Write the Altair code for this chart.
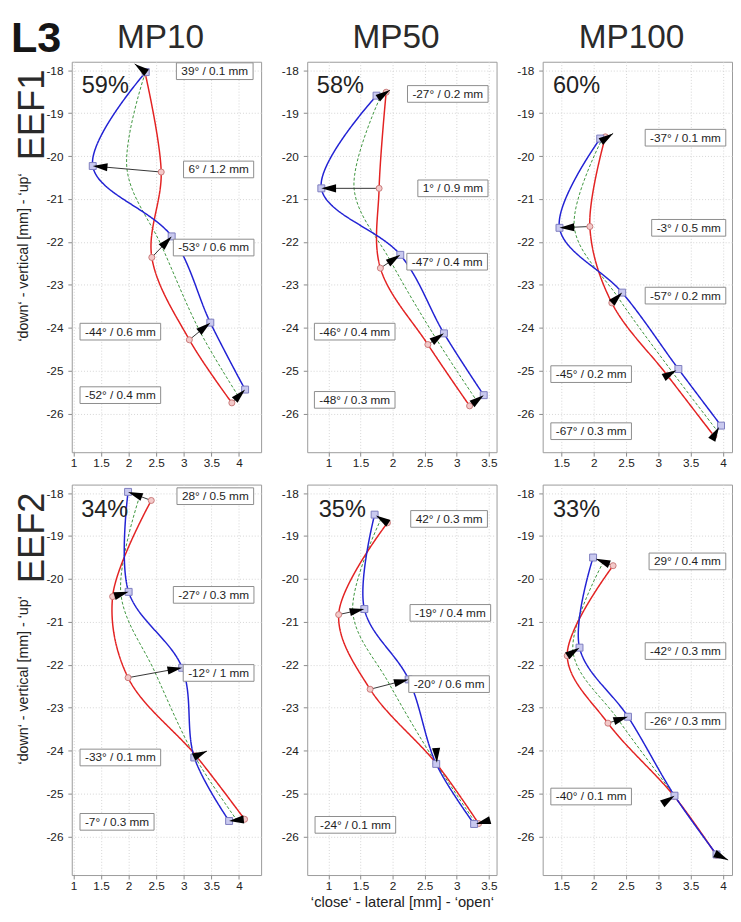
import math
import altair as alt
import pandas as pd

FONT = "Liberation Sans"
W, H = 193, 398
Y_DOMAIN = [-26.9, -17.8]
Y_TICKS = [-18, -19, -20, -21, -22, -23, -24, -25, -26]

row_names = ["EEF1", "EEF2"]
col_names = ["MP10", "MP50", "MP100"]
x_domains = [[0.97, 4.4], [0.67, 3.62], [1.21, 4.14]]
x_ticks = [[1, 1.5, 2, 2.5, 3, 3.5, 4], [1, 1.5, 2, 2.5, 3, 3.5], [1.5, 2, 2.5, 3, 3.5, 4]]
Y_TITLE = "\u2018down\u2018 - vertical [mm] - \u2018up\u2018"
X_TITLE = "\u2018close\u2018 - lateral [mm] - \u2018open\u2018"

# panel order: EEF1-MP10, EEF1-MP50, EEF1-MP100, EEF2-MP10, EEF2-MP50, EEF2-MP100
percent_text = ["59%", "58%", "60%", "34%", "35%", "33%"]
percent_x = [1.15, 0.82, 1.37, 1.14, 0.85, 1.37]
percent_y = [-18.53, -18.53, -18.53, -18.56, -18.55, -18.55]

blue_x = [
    [2.31, 1.35, 2.78, 3.48, 4.11],
    [1.75, 0.89, 2.12, 2.80, 3.42],
    [2.10, 1.47, 2.44, 3.31, 3.97],
    [1.99, 2.00, 2.97, 3.19, 3.82],
    [1.72, 1.56, 2.25, 2.68, 3.27],
    [1.99, 1.78, 2.53, 3.25, 3.90],
]
blue_y = [
    [-18.04, -20.23, -21.87, -23.88, -25.44],
    [-18.59, -20.75, -22.30, -24.13, -25.57],
    [-19.59, -21.67, -23.18, -24.96, -26.28],
    [-17.97, -20.30, -22.07, -24.16, -25.64],
    [-18.50, -20.70, -22.34, -24.31, -25.71],
    [-19.50, -21.60, -23.21, -25.05, -26.42],
]
red_x = [
    [2.30, 2.59, 2.42, 3.10, 3.87],
    [1.90, 1.79, 1.81, 2.55, 3.20],
    [2.18, 1.94, 2.28, 3.14, 3.86],
    [2.41, 1.71, 1.99, 3.22, 4.10],
    [1.92, 1.16, 1.65, 2.68, 3.34],
    [2.30, 1.59, 2.22, 3.25, 3.90],
]
red_y = [
    [-18.07, -20.37, -22.36, -24.28, -25.75],
    [-18.51, -20.75, -22.61, -24.39, -25.82],
    [-19.55, -21.64, -23.42, -25.11, -26.52],
    [-18.17, -20.41, -22.30, -24.12, -25.60],
    [-18.69, -20.83, -22.57, -24.30, -25.70],
    [-19.69, -21.79, -23.36, -25.07, -26.44],
]
green_x = [
    [2.30, 1.97, 2.60, 3.29, 3.99],
    [1.83, 1.40, 1.97, 2.68, 3.31],
    [2.14, 1.70, 2.38, 3.22, 3.91],
    [2.20, 1.86, 2.48, 3.20, 3.96],
    [1.82, 1.38, 1.95, 2.68, 3.30],
    [2.15, 1.68, 2.38, 3.25, 3.90],
]
green_y = [
    [-18.06, -20.30, -22.10, -24.08, -25.60],
    [-18.55, -20.75, -22.45, -24.26, -25.70],
    [-19.57, -21.66, -23.30, -25.04, -26.40],
    [-18.07, -20.35, -22.18, -24.14, -25.62],
    [-18.60, -20.77, -22.45, -24.30, -25.70],
    [-19.60, -21.70, -23.28, -25.06, -26.43],
]
# arrow start / tip
arrow_x0 = [
    [2.31, 2.59, 2.42, 3.10, 3.87],
    [1.83, 1.79, 1.81, 2.55, 3.20],
    [2.17, 1.94, 2.28, 3.14, 3.86],
    [2.41, 1.71, 1.99, 3.20, 4.10],
    [1.92, 1.16, 1.65, 2.68, 3.47],
    [2.30, 1.59, 2.22, 3.08, 3.90],
]
arrow_y0 = [
    [-18.04, -20.37, -22.36, -24.28, -25.75],
    [-18.59, -20.75, -22.61, -24.39, -25.82],
    [-19.60, -21.64, -23.42, -25.11, -26.52],
    [-18.17, -20.41, -22.30, -24.14, -25.60],
    [-18.69, -20.83, -22.57, -24.00, -25.64],
    [-19.69, -21.79, -23.36, -25.22, -26.42],
]
arrow_x1 = [
    [2.11, 1.35, 2.78, 3.48, 4.11],
    [1.96, 0.89, 2.12, 2.80, 3.42],
    [2.30, 1.47, 2.44, 3.28, 3.94],
    [1.99, 2.00, 2.97, 3.42, 3.82],
    [1.74, 1.56, 2.25, 2.69, 3.30],
    [2.03, 1.78, 2.53, 3.25, 4.08],
]
arrow_y1 = [
    [-17.85, -20.23, -21.87, -23.88, -25.44],
    [-18.46, -20.75, -22.30, -24.13, -25.57],
    [-19.47, -21.67, -23.18, -24.99, -26.31],
    [-17.97, -20.30, -22.07, -24.01, -25.64],
    [-18.52, -20.70, -22.34, -24.28, -25.71],
    [-19.53, -21.60, -23.21, -25.05, -26.55],
]
label_text = [
    ["39\u00b0 / 0.1 mm", "6\u00b0 / 1.2 mm", "-53\u00b0 / 0.6 mm", "-44\u00b0 / 0.6 mm", "-52\u00b0 / 0.4 mm"],
    ["-27\u00b0 / 0.2 mm", "1\u00b0 / 0.9 mm", "-47\u00b0 / 0.4 mm", "-46\u00b0 / 0.4 mm", "-48\u00b0 / 0.3 mm"],
    ["-37\u00b0 / 0.1 mm", "-3\u00b0 / 0.5 mm", "-57\u00b0 / 0.2 mm", "-45\u00b0 / 0.2 mm", "-67\u00b0 / 0.3 mm"],
    ["28\u00b0 / 0.5 mm", "-27\u00b0 / 0.3 mm", "-12\u00b0 / 1 mm", "-33\u00b0 / 0.1 mm", "-7\u00b0 / 0.3 mm"],
    ["42\u00b0 / 0.3 mm", "-19\u00b0 / 0.4 mm", "-20\u00b0 / 0.6 mm", "-24\u00b0 / 0.1 mm"],
    ["29\u00b0 / 0.4 mm", "-42\u00b0 / 0.3 mm", "-26\u00b0 / 0.3 mm", "-40\u00b0 / 0.1 mm"],
]
label_x = [
    [3.56, 3.63, 3.54, 1.85, 1.85],
    [2.86, 2.94, 2.85, 1.41, 1.41],
    [3.42, 3.47, 3.42, 1.96, 1.96],
    [3.57, 3.54, 3.63, 1.85, 1.79],
    [2.88, 2.90, 2.88, 1.42],
    [3.45, 3.42, 3.42, 1.96],
]
label_y = [
    [-18.02, -20.31, -22.13, -24.09, -25.57],
    [-18.55, -20.75, -22.46, -24.09, -25.68],
    [-19.57, -21.67, -23.25, -25.08, -26.41],
    [-18.07, -20.37, -22.19, -24.16, -25.66],
    [-18.60, -20.79, -22.45, -25.73],
    [-19.59, -21.68, -23.31, -25.07],
]

# ---- styling helpers ----
CHAR_W = {" ": 0.278, "/": 0.278, ".": 0.278, "-": 0.333, "\u00b0": 0.4, "m": 0.833}
ARROW_SHAPE = "M0,0L0.55,2L-0.55,2Z"


def text_width(s, fs=12):
    return sum(CHAR_W.get(ch, 0.556) for ch in s) * fs


def panel(i):
    r, c = divmod(i, 3)
    xd = x_domains[c]
    kx = W / (xd[1] - xd[0])
    ky = H / (Y_DOMAIN[1] - Y_DOMAIN[0])
    xscale = alt.Scale(domain=xd, nice=False, zero=False)
    yscale = alt.Scale(domain=Y_DOMAIN, nice=False, zero=False)
    xaxis = alt.Axis(values=x_ticks[c], labelExpr="'' + datum.value", labelFlush=False,
                     titleFontSize=15, titlePadding=3)
    yaxis = alt.Axis(values=Y_TICKS, labelExpr="'' + datum.value", labelFlush=False,
                     labelPadding=5, titlePadding=16, titleFontSize=14.5)
    xt = X_TITLE if i == 4 else None
    yt = Y_TITLE if c == 0 else None

    def X(f):
        return alt.X(f, type="quantitative", scale=xscale, axis=xaxis, title=xt)

    def Y(f):
        return alt.Y(f, type="quantitative", scale=yscale, axis=yaxis, title=yt)

    def series(xs, ys):
        return pd.DataFrame({"x": xs, "y": ys, "o": list(range(len(xs)))})

    layers = []
    for xs, ys, col, sw, dash in [
        (green_x[i], green_y[i], "#3d953d", 1.0, [3, 2]),
        (red_x[i], red_y[i], "#e32222", 1.5, [1, 0]),
        (blue_x[i], blue_y[i], "#2222d4", 1.5, [1, 0]),
    ]:
        layers.append(
            alt.Chart(series(xs, ys)).mark_line(
                color=col, strokeWidth=sw, strokeDash=dash, interpolate="catmull-rom"
            ).encode(x=X("x"), y=Y("y"), order=alt.Order("o:Q"))
        )

    adf = pd.DataFrame({"x": arrow_x0[i], "y": arrow_y0[i], "x2": arrow_x1[i], "y2": arrow_y1[i]})
    adf["a"] = [
        (math.degrees(math.atan2((b - a) * kx, (d - cc) * ky)) + 360) % 360
        for a, b, cc, d in zip(adf["x"], adf["x2"], adf["y"], adf["y2"])
    ]
    layers.append(
        alt.Chart(adf).mark_rule(color="#333333", strokeWidth=1).encode(
            x=X("x"), y=Y("y"), x2="x2", y2="y2"
        )
    )
    layers.append(
        alt.Chart(series(red_x[i], red_y[i])).mark_circle(
            size=38, fill="#f3c9c9", stroke="#c87a7a", strokeWidth=1, opacity=1
        ).encode(x=X("x"), y=Y("y"))
    )
    layers.append(
        alt.Chart(series(blue_x[i], blue_y[i])).mark_square(
            size=50, fill="#c9c9ef", stroke="#7d7dbf", strokeWidth=1, opacity=1
        ).encode(x=X("x"), y=Y("y"))
    )
    layers.append(
        alt.Chart(adf).mark_point(
            shape=ARROW_SHAPE, filled=True, color="#000000", size=225, opacity=1
        ).encode(x=X("x2"), y=Y("y2"), angle=alt.Angle("a:Q", scale=None))
    )

    ldf = pd.DataFrame({"t": label_text[i], "x": label_x[i], "y": label_y[i]})
    hw = [text_width(t) / 2 + 5 for t in ldf["t"]]
    ldf["x0"] = [x - h / kx for x, h in zip(ldf["x"], hw)]
    ldf["x1"] = [x + h / kx for x, h in zip(ldf["x"], hw)]
    ldf["y0"] = ldf["y"] - 8.5 / ky
    ldf["y1"] = ldf["y"] + 8.5 / ky
    layers.append(
        alt.Chart(ldf).mark_rect(fill="#ffffff", stroke="#8c8c8c", strokeWidth=1).encode(
            x=X("x0"), x2="x1", y=Y("y0"), y2="y1"
        )
    )
    layers.append(
        alt.Chart(ldf).mark_text(font=FONT, fontSize=12, color="#1e1e1e").encode(
            x=X("x"), y=Y("y"), text="t:N"
        )
    )
    pdf = pd.DataFrame({"t": [percent_text[i]], "x": [percent_x[i]], "y": [percent_y[i]]})
    layers.append(
        alt.Chart(pdf).mark_text(
            font=FONT, fontSize=24, color="#222222", align="left", baseline="alphabetic"
        ).encode(x=X("x"), y=Y("y"), text="t:N")
    )
    if r == 0:
        layers.append(
            alt.Chart(pd.DataFrame({"t": [col_names[c]]})).mark_text(
                font=FONT, fontSize=34, color="#2a2a2a", align="center", baseline="alphabetic"
            ).encode(x=alt.value(W / 2 - 6), y=alt.value(-14), text="t:N")
        )
    if c == 0:
        layers.append(
            alt.Chart(pd.DataFrame({"t": [row_names[r]]})).mark_text(
                font=FONT, fontSize=37, color="#2a2a2a", align="right", baseline="top", angle=270
            ).encode(x=alt.value(-57), y=alt.value(8), text="t:N")
        )
    if i == 0:
        layers.append(
            alt.Chart(pd.DataFrame({"t": ["L3"]})).mark_text(
                font=FONT, fontSize=44, fontWeight="bold", color="#151515", align="left",
                baseline="alphabetic"
            ).encode(x=alt.value(-62), y=alt.value(-10), text="t:N")
        )
    return alt.layer(*layers).properties(width=W, height=H)


rows = [alt.hconcat(*[panel(r * 3 + c) for c in range(3)], spacing=19) for r in range(2)]
chart = (
    alt.vconcat(*rows, spacing=14)
    .properties(padding={"left": 2, "top": 0, "right": 0, "bottom": 0})
    .configure_view(stroke="#9a9a9a", strokeWidth=1)
    .configure_axis(
        domain=False,
        grid=True,
        gridColor="#d4d4d4",
        gridDash=[1, 2],
        gridWidth=1,
        tickColor="#8a8a8a",
        tickSize=4,
        labelFont=FONT,
        labelFontSize=12,
        labelColor="#222222",
        labelPadding=2,
        titleFont=FONT,
        titleFontSize=14,
        titleFontWeight="normal",
        titleColor="#222222",
    )
)
chart.save("out.html", embed_options={"renderer": "svg", "actions": False})
